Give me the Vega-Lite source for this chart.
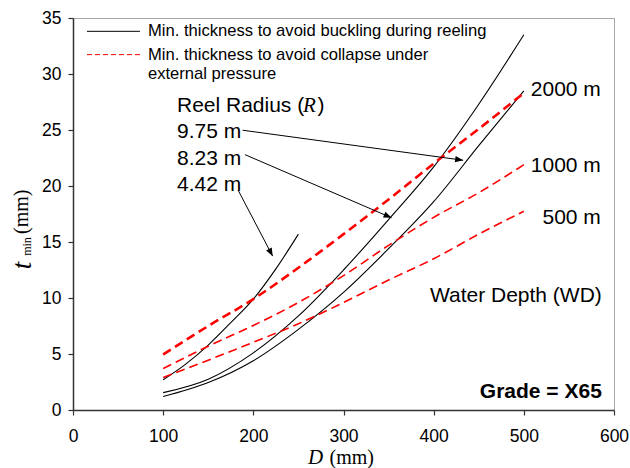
{
  "$schema": "https://vega.github.io/schema/vega-lite/v6.json",
  "width": 541,
  "height": 392,
  "autosize": {"type": "none"},
  "padding": {"left": 73, "top": 18, "right": 16, "bottom": 58},
  "background": "white",
  "config": {
    "view": {"stroke": "#a6a6a6", "strokeWidth": 1},
    "axis": {
      "grid": false,
      "domainColor": "#333333",
      "domainWidth": 1.5,
      "tickColor": "#333333",
      "tickWidth": 1.2,
      "tickSize": 5,
      "labelFlush": false,
      "labelFont": "Liberation Sans",
      "labelFontSize": 17.5,
      "labelColor": "#000000"
    },
    "text": {"font": "Liberation Sans", "fontSize": 21, "color": "#000000", "baseline": "middle"},
    "rule": {"color": "#000000", "strokeWidth": 1}
  },
  "datasets": {
    "curves": [
      {"series": "R = 4.42 m", "D": 100, "t": 2.7},
      {"series": "R = 4.42 m", "D": 125, "t": 4.1},
      {"series": "R = 4.42 m", "D": 150, "t": 5.8},
      {"series": "R = 4.42 m", "D": 175, "t": 7.8},
      {"series": "R = 4.42 m", "D": 200, "t": 9.9},
      {"series": "R = 4.42 m", "D": 225, "t": 12.6},
      {"series": "R = 4.42 m", "D": 250, "t": 15.7},
      {"series": "R = 8.23 m", "D": 100, "t": 1.55},
      {"series": "R = 8.23 m", "D": 150, "t": 2.75},
      {"series": "R = 8.23 m", "D": 200, "t": 5.1},
      {"series": "R = 8.23 m", "D": 250, "t": 8.4},
      {"series": "R = 8.23 m", "D": 300, "t": 12.5},
      {"series": "R = 8.23 m", "D": 350, "t": 17.0},
      {"series": "R = 8.23 m", "D": 400, "t": 21.7},
      {"series": "R = 8.23 m", "D": 450, "t": 27.3},
      {"series": "R = 8.23 m", "D": 500, "t": 33.5},
      {"series": "R = 9.75 m", "D": 100, "t": 1.2},
      {"series": "R = 9.75 m", "D": 150, "t": 2.45},
      {"series": "R = 9.75 m", "D": 200, "t": 4.4},
      {"series": "R = 9.75 m", "D": 250, "t": 7.2},
      {"series": "R = 9.75 m", "D": 300, "t": 10.5},
      {"series": "R = 9.75 m", "D": 350, "t": 14.4},
      {"series": "R = 9.75 m", "D": 400, "t": 18.6},
      {"series": "R = 9.75 m", "D": 450, "t": 23.6},
      {"series": "R = 9.75 m", "D": 500, "t": 28.5},
      {"series": "WD = 2000 m", "D": 100, "t": 4.95},
      {"series": "WD = 2000 m", "D": 150, "t": 7.5},
      {"series": "WD = 2000 m", "D": 200, "t": 9.9},
      {"series": "WD = 2000 m", "D": 250, "t": 12.7},
      {"series": "WD = 2000 m", "D": 300, "t": 15.7},
      {"series": "WD = 2000 m", "D": 350, "t": 18.8},
      {"series": "WD = 2000 m", "D": 400, "t": 22.0},
      {"series": "WD = 2000 m", "D": 450, "t": 25.1},
      {"series": "WD = 2000 m", "D": 500, "t": 28.3},
      {"series": "WD = 1000 m", "D": 100, "t": 3.7},
      {"series": "WD = 1000 m", "D": 150, "t": 5.7},
      {"series": "WD = 1000 m", "D": 200, "t": 7.55},
      {"series": "WD = 1000 m", "D": 250, "t": 9.6},
      {"series": "WD = 1000 m", "D": 300, "t": 12.0},
      {"series": "WD = 1000 m", "D": 350, "t": 14.7},
      {"series": "WD = 1000 m", "D": 400, "t": 17.2},
      {"series": "WD = 1000 m", "D": 450, "t": 19.4},
      {"series": "WD = 1000 m", "D": 500, "t": 21.9},
      {"series": "WD = 500 m", "D": 100, "t": 2.9},
      {"series": "WD = 500 m", "D": 150, "t": 4.45},
      {"series": "WD = 500 m", "D": 200, "t": 6.05},
      {"series": "WD = 500 m", "D": 250, "t": 7.7},
      {"series": "WD = 500 m", "D": 300, "t": 9.6},
      {"series": "WD = 500 m", "D": 350, "t": 11.6},
      {"series": "WD = 500 m", "D": 400, "t": 13.5},
      {"series": "WD = 500 m", "D": 450, "t": 15.7},
      {"series": "WD = 500 m", "D": 500, "t": 17.75}
    ]
  },
  "layer": [
    {
      "data": {"name": "curves"},
      "transform": [{"filter": {"field": "series", "oneOf": ["R = 4.42 m", "R = 8.23 m", "R = 9.75 m"]}}],
      "mark": {"type": "line", "interpolate": "monotone", "color": "#000000", "strokeWidth": 1.1},
      "encoding": {
        "x": {
          "field": "D", "type": "quantitative",
          "scale": {"domain": [0, 600], "nice": false},
          "axis": {"values": [0, 100, 200, 300, 400, 500, 600], "title": null, "labelPadding": 12}
        },
        "y": {
          "field": "t", "type": "quantitative",
          "scale": {"domain": [0, 35], "nice": false},
          "axis": {"values": [0, 5, 10, 15, 20, 25, 30, 35], "title": null, "labelPadding": 7}
        },
        "detail": {"field": "series"}
      }
    },
    {
      "data": {"name": "curves"},
      "transform": [{"filter": {"field": "series", "oneOf": ["WD = 1000 m", "WD = 500 m"]}}],
      "mark": {"type": "line", "interpolate": "monotone", "color": "#ff0000", "strokeWidth": 1.6, "strokeDash": [9, 5]},
      "encoding": {
        "x": {"field": "D", "type": "quantitative"},
        "y": {"field": "t", "type": "quantitative"},
        "detail": {"field": "series"}
      }
    },
    {
      "data": {"name": "curves"},
      "transform": [{"filter": {"field": "series", "equal": "WD = 2000 m"}}],
      "mark": {"type": "line", "interpolate": "monotone", "color": "#ff0000", "strokeWidth": 2.6, "strokeDash": [9, 5]},
      "encoding": {
        "x": {"field": "D", "type": "quantitative"},
        "y": {"field": "t", "type": "quantitative"}
      }
    },
    {
      "data": {"values": [{}]},
      "mark": {"type": "rule"},
      "encoding": {"x": {"datum": 15.5}, "x2": {"datum": 74.3}, "y": {"datum": 33.81}}
    },
    {
      "data": {"values": [{}]},
      "mark": {"type": "rule", "color": "#ff0000", "strokeDash": [5, 3]},
      "encoding": {"x": {"datum": 15.5}, "x2": {"datum": 74.3}, "y": {"datum": 31.73}}
    },
    {
      "data": {"values": [{}]},
      "mark": {"type": "text", "align": "left", "fontSize": 16.6},
      "encoding": {"x": {"datum": 83.1}, "y": {"datum": 33.81}, "text": {"value": "Min. thickness to avoid buckling during reeling"}}
    },
    {
      "data": {"values": [{}]},
      "mark": {"type": "text", "align": "left", "fontSize": 16.6},
      "encoding": {"x": {"datum": 83.1}, "y": {"datum": 31.73}, "text": {"value": "Min. thickness to avoid collapse under"}}
    },
    {
      "data": {"values": [{}]},
      "mark": {"type": "text", "align": "left", "fontSize": 16.6},
      "encoding": {"x": {"datum": 83.1}, "y": {"datum": 30.04}, "text": {"value": "external pressure"}}
    },
    {
      "data": {"values": [{}]},
      "mark": {"type": "text", "align": "right"},
      "encoding": {"x": {"datum": 585.4}, "y": {"datum": 28.55}, "text": {"value": "2000 m"}}
    },
    {
      "data": {"values": [{}]},
      "mark": {"type": "text", "align": "right"},
      "encoding": {"x": {"datum": 585.4}, "y": {"datum": 21.75}, "text": {"value": "1000 m"}}
    },
    {
      "data": {"values": [{}]},
      "mark": {"type": "text", "align": "right"},
      "encoding": {"x": {"datum": 585.4}, "y": {"datum": 17.1}, "text": {"value": "500 m"}}
    },
    {
      "data": {"values": [{}]},
      "mark": {"type": "text", "align": "right"},
      "encoding": {"x": {"datum": 586.5}, "y": {"datum": 10.17}, "text": {"value": "Water Depth (WD)"}}
    },
    {
      "data": {"values": [{}]},
      "mark": {"type": "text", "align": "right", "fontWeight": "bold"},
      "encoding": {"x": {"datum": 586.5}, "y": {"datum": 1.6}, "text": {"value": "Grade = X65"}}
    },
    {
      "data": {"values": [{}]},
      "mark": {"type": "text", "align": "left"},
      "encoding": {"x": {"datum": 115.3}, "y": {"datum": 27.1}, "text": {"value": "Reel Radius ("}}
    },
    {
      "data": {"values": [{}]},
      "mark": {"type": "text", "align": "left", "font": "Liberation Serif", "fontStyle": "italic"},
      "encoding": {"x": {"datum": 255}, "y": {"datum": 27.1}, "text": {"value": "R"}}
    },
    {
      "data": {"values": [{}]},
      "mark": {"type": "text", "align": "left"},
      "encoding": {"x": {"datum": 271.2}, "y": {"datum": 27.1}, "text": {"value": ")"}}
    },
    {
      "data": {"values": [{}]},
      "mark": {"type": "text", "align": "left"},
      "encoding": {"x": {"datum": 115.3}, "y": {"datum": 24.8}, "text": {"value": "9.75 m"}}
    },
    {
      "data": {"values": [{}]},
      "mark": {"type": "text", "align": "left"},
      "encoding": {"x": {"datum": 115.3}, "y": {"datum": 22.45}, "text": {"value": "8.23 m"}}
    },
    {
      "data": {"values": [{}]},
      "mark": {"type": "text", "align": "left"},
      "encoding": {"x": {"datum": 115.3}, "y": {"datum": 20.1}, "text": {"value": "4.42 m"}}
    },
    {
      "data": {"values": [{}]},
      "mark": {"type": "rule"},
      "encoding": {"x": {"datum": 188.1}, "y": {"datum": 24.98}, "x2": {"datum": 432.7}, "y2": {"datum": 22.3}}
    },
    {
      "data": {"values": [{}]},
      "mark": {"type": "rule"},
      "encoding": {"x": {"datum": 190.7}, "y": {"datum": 22.8}, "x2": {"datum": 353.3}, "y2": {"datum": 17.16}}
    },
    {
      "data": {"values": [{}]},
      "mark": {"type": "rule"},
      "encoding": {"x": {"datum": 183.3}, "y": {"datum": 19.6}, "x2": {"datum": 221.4}, "y2": {"datum": 13.74}}
    },
    {
      "data": {"values": [{}]},
      "mark": {"type": "point", "shape": "M0,0L-0.4,1L0.4,1Z", "filled": true, "color": "#000000", "opacity": 1, "size": 256, "angle": 97.8, "strokeWidth": 0},
      "encoding": {"x": {"datum": 432.7}, "y": {"datum": 22.3}}
    },
    {
      "data": {"values": [{}]},
      "mark": {"type": "point", "shape": "M0,0L-0.4,1L0.4,1Z", "filled": true, "color": "#000000", "opacity": 1, "size": 256, "angle": 113.3, "strokeWidth": 0},
      "encoding": {"x": {"datum": 353.3}, "y": {"datum": 17.16}}
    },
    {
      "data": {"values": [{}]},
      "mark": {"type": "point", "shape": "M0,0L-0.4,1L0.4,1Z", "filled": true, "color": "#000000", "opacity": 1, "size": 256, "angle": 152.5, "strokeWidth": 0},
      "encoding": {"x": {"datum": 221.4}, "y": {"datum": 13.74}}
    },
    {
      "data": {"values": [{}]},
      "mark": {"type": "text", "align": "right", "font": "Liberation Serif", "fontStyle": "italic", "fontSize": 21},
      "encoding": {"x": {"datum": 277.5}, "y": {"datum": -4.25}, "text": {"value": "D"}}
    },
    {
      "data": {"values": [{}]},
      "mark": {"type": "text", "align": "left", "font": "Liberation Serif", "fontSize": 20},
      "encoding": {"x": {"datum": 284.5}, "y": {"datum": -4.25}, "text": {"value": "(mm)"}}
    },
    {
      "data": {"values": [{}]},
      "mark": {"type": "text", "align": "center", "angle": 270, "font": "Liberation Serif", "fontSize": 20},
      "encoding": {"x": {"datum": -56.5}, "y": {"datum": 17.7}, "text": {"value": "(mm)"}}
    },
    {
      "data": {"values": [{}]},
      "mark": {"type": "text", "align": "center", "angle": 270, "font": "Liberation Serif", "fontSize": 12},
      "encoding": {"x": {"datum": -51}, "y": {"datum": 14.6}, "text": {"value": "min"}}
    },
    {
      "data": {"values": [{}]},
      "mark": {"type": "text", "align": "center", "angle": 270, "font": "Liberation Serif", "fontStyle": "italic", "fontSize": 27},
      "encoding": {"x": {"datum": -56}, "y": {"datum": 12.9}, "text": {"value": "t"}}
    }
  ]
}
